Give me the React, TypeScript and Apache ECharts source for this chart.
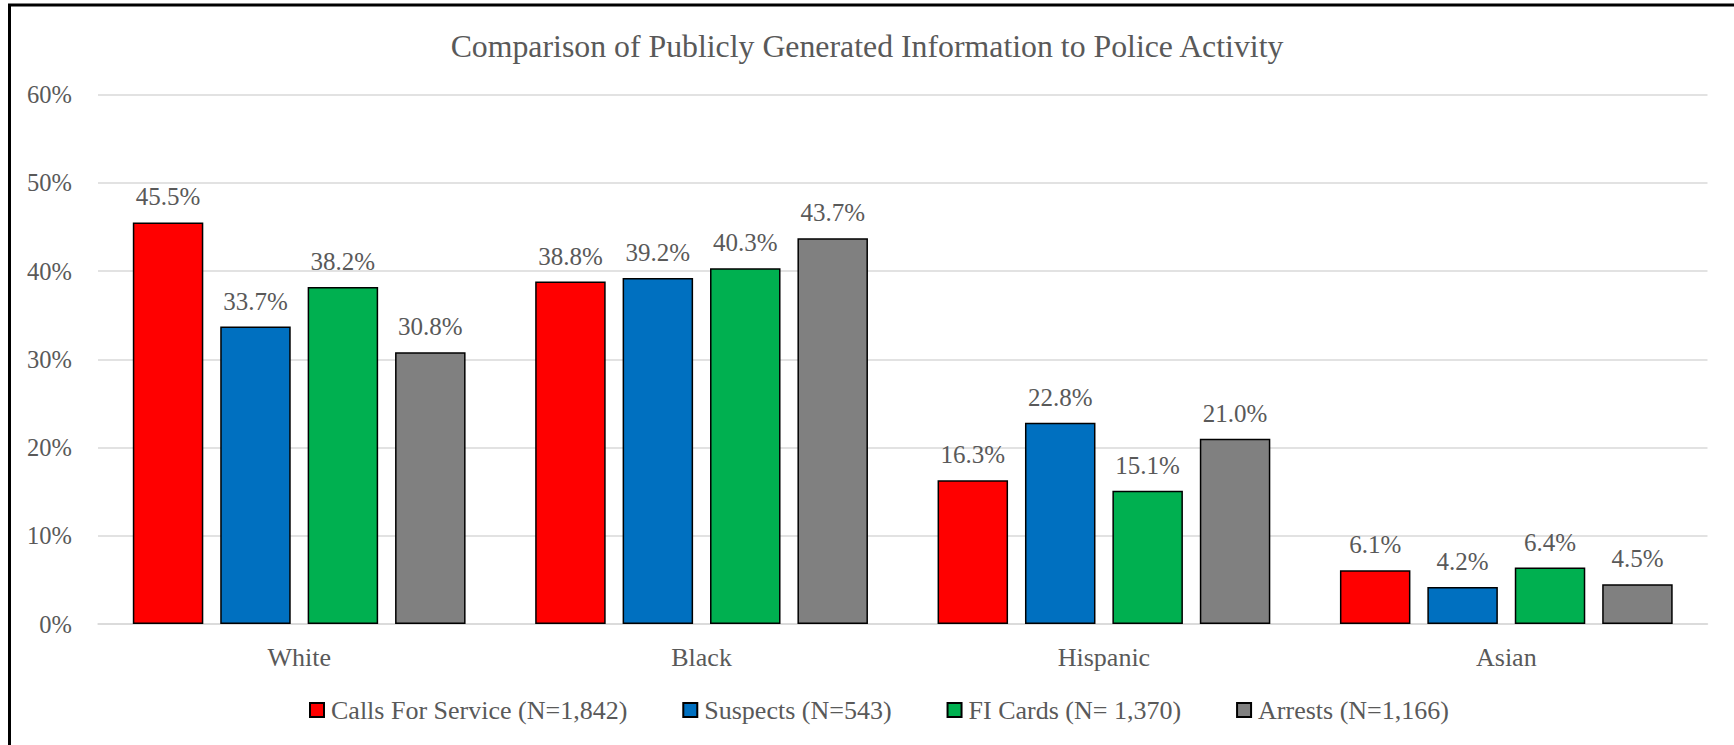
import React, { useEffect, useRef } from "react";
import * as echarts from "echarts";

// Share of each group, in percent
const categories = ["White", "Black", "Hispanic", "Asian"];
const callsForService = [45.5, 38.8, 16.3, 6.1];
const suspects = [33.7, 39.2, 22.8, 4.2];
const fiCards = [38.2, 40.3, 15.1, 6.4];
const arrests = [30.8, 43.7, 21.0, 4.5];

const seriesNames = [
  "Calls For Service (N=1,842)",
  "Suspects (N=543)",
  "FI Cards (N= 1,370)",
  "Arrests (N=1,166)",
];
const seriesColors = ["#FF0000", "#0070C0", "#00B050", "#808080"];
const seriesData = [callsForService, suspects, fiCards, arrests];

const FONT = "Liberation Serif";
const TEXT_COLOR = "#595959";

export default function App() {
  const ref = useRef<HTMLDivElement>(null);

  useEffect(() => {
    if (!ref.current) return;
    const chart = echarts.init(ref.current, undefined, { renderer: "svg" });

    chart.setOption({
      animation: false,
      backgroundColor: "#ffffff",
      textStyle: { fontFamily: FONT },
      title: {
        text: "Comparison of Publicly Generated Information to Police Activity",
        left: "center",
        top: 30,
        padding: 0,
        textStyle: {
          fontFamily: FONT,
          fontSize: 31.8,
          fontWeight: "normal",
          color: TEXT_COLOR,
        },
      },
      graphic: [
        {
          type: "rect",
          silent: true,
          shape: { x: 9.5, y: 5, width: 1800, height: 800 },
          style: { fill: "none", stroke: "#000000", lineWidth: 3 },
          z: 100,
        },
      ],
      legend: {
        left: 309,
        top: 697,
        padding: 0,
        itemGap: 55,
        itemWidth: 14,
        itemHeight: 14,
        icon: "rect",
        textStyle: {
          fontFamily: FONT,
          fontSize: 26,
          color: TEXT_COLOR,
          padding: [0, 0, 0, 2],
        },
        data: seriesNames,
      },
      grid: {
        left: 98,
        right: 26.5,
        top: 94.5,
        bottom: 121,
        containLabel: false,
      },
      xAxis: {
        type: "category",
        data: categories,
        axisLine: { lineStyle: { color: "#d9d9d9", width: 1.5 } },
        axisTick: { show: false },
        axisLabel: {
          fontFamily: FONT,
          fontSize: 26,
          color: TEXT_COLOR,
          margin: 20,
        },
      },
      yAxis: {
        type: "value",
        min: 0,
        max: 60,
        interval: 10,
        axisLine: { show: false },
        axisTick: { show: false },
        splitLine: { lineStyle: { color: "#d9d9d9", width: 1.5 } },
        axisLabel: {
          fontFamily: FONT,
          fontSize: 24.5,
          color: TEXT_COLOR,
          margin: 26,
          formatter: "{value}%",
        },
      },
      series: seriesNames.map((name, i) => ({
        name,
        type: "bar",
        data: seriesData[i],
        barGap: "24%",
        barCategoryGap: "17.3%",
        itemStyle: {
          color: seriesColors[i],
          borderColor: "#000000",
          borderWidth: 1.5,
        },
        label: {
          show: true,
          position: "top",
          distance: 13,
          fontFamily: FONT,
          fontSize: 25,
          color: TEXT_COLOR,
          formatter: (p: any) => `${Number(p.value).toFixed(1)}%`,
        },
      })),
    });

    return () => chart.dispose();
  }, []);

  return (
    <div
      ref={ref}
      style={{
        position: "fixed",
        left: 0,
        top: 0,
        width: 1734,
        height: 745,
      }}
    />
  );
}
